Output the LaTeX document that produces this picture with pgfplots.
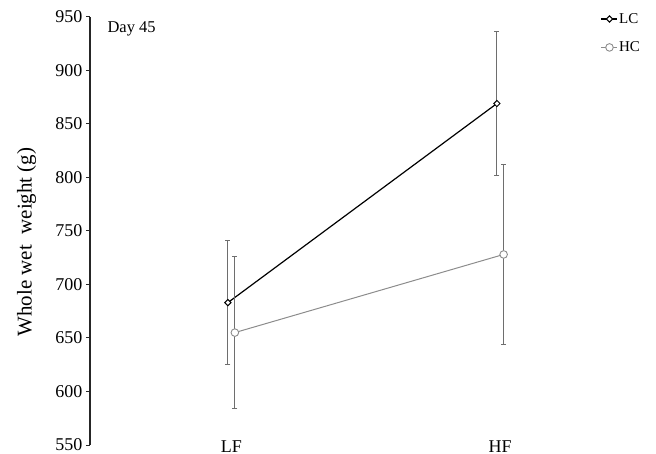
\documentclass[border=0pt]{standalone}
\usepackage{fontspec}
\setmainfont{Liberation Serif}
\usepackage{pgfplots}
\pgfplotsset{compat=1.18}
\definecolor{ebar}{HTML}{6E6E6E}
\definecolor{hcgray}{HTML}{8C8C8C}
\begin{document}
\begin{tikzpicture}
\begin{axis}[
  at={(0pt,0pt)}, anchor=south west,
  scale only axis, width=551.5pt, height=428.2pt,
  xmin=0.474, xmax=2.526, ymin=550, ymax=950,
  ytick={550,600,...,950},
  xtick={1,2}, xticklabels={LF,HF},
  axis y line*=left, axis x line*=bottom,
  x axis line style={draw=none},
  xtick style={draw=none},
  y axis line style={line width=1.1pt, color=black!85},
  ytick style={line width=1pt, color=black!85},
  tick align=outside, major tick length=4pt,
  tick label style={font=\fontsize{18}{20}\selectfont},
  /pgf/number format/assume math mode=true,
  /pgf/number format/1000 sep={},
  xticklabel style={anchor=base, yshift=-3pt},
  ylabel={Whole wet\ \ weight (g)},
  ylabel style={font=\fontsize{21}{24}\selectfont, at={(axis description cs:-0.1151,0.474)}, anchor=center},
  legend cell align=left,
  legend style={draw=none, fill=none, at={(axis description cs:0.926,1.011)}, anchor=north west,
    font=\fontsize{15}{17}\selectfont, inner sep=0pt, row sep=15pt, nodes={inner sep=1pt}},
  legend image code/.code={\draw[mark repeat=2,mark phase=2] plot coordinates {(0pt,0pt)(8pt,0pt)(16pt,0pt)};},
  error bars/y dir=both, error bars/y explicit,
  error bars/error bar style={ebar, line width=0.9pt},
  error bars/error mark options={ebar, line width=0.9pt, mark size=2.5pt, rotate=90},
]
\addplot[black, line width=1.2pt, mark=square*, mark size=2.2pt, mark options={rotate=45, fill=white, draw=black, line width=1pt}]
  coordinates {(0.987,683) +- (0,58) (1.988,869) +- (0,67)};
\addlegendentry{LC}
\addplot[hcgray, line width=1pt, mark=*, mark size=3.8pt, mark options={fill=white, draw=hcgray, line width=0.9pt}]
  coordinates {(1.013,655) +- (0,71) (2.013,728) +- (0,84)};
\addlegendentry{HC}
\node[anchor=base west, font=\fontsize{16.5}{18}\selectfont] at (rel axis cs:0.0254,0.9638) {Day 45};
\end{axis}
\pgfresetboundingbox
\path (-90pt,-8pt) rectangle (566pt,445pt);
\end{tikzpicture}
\end{document}
